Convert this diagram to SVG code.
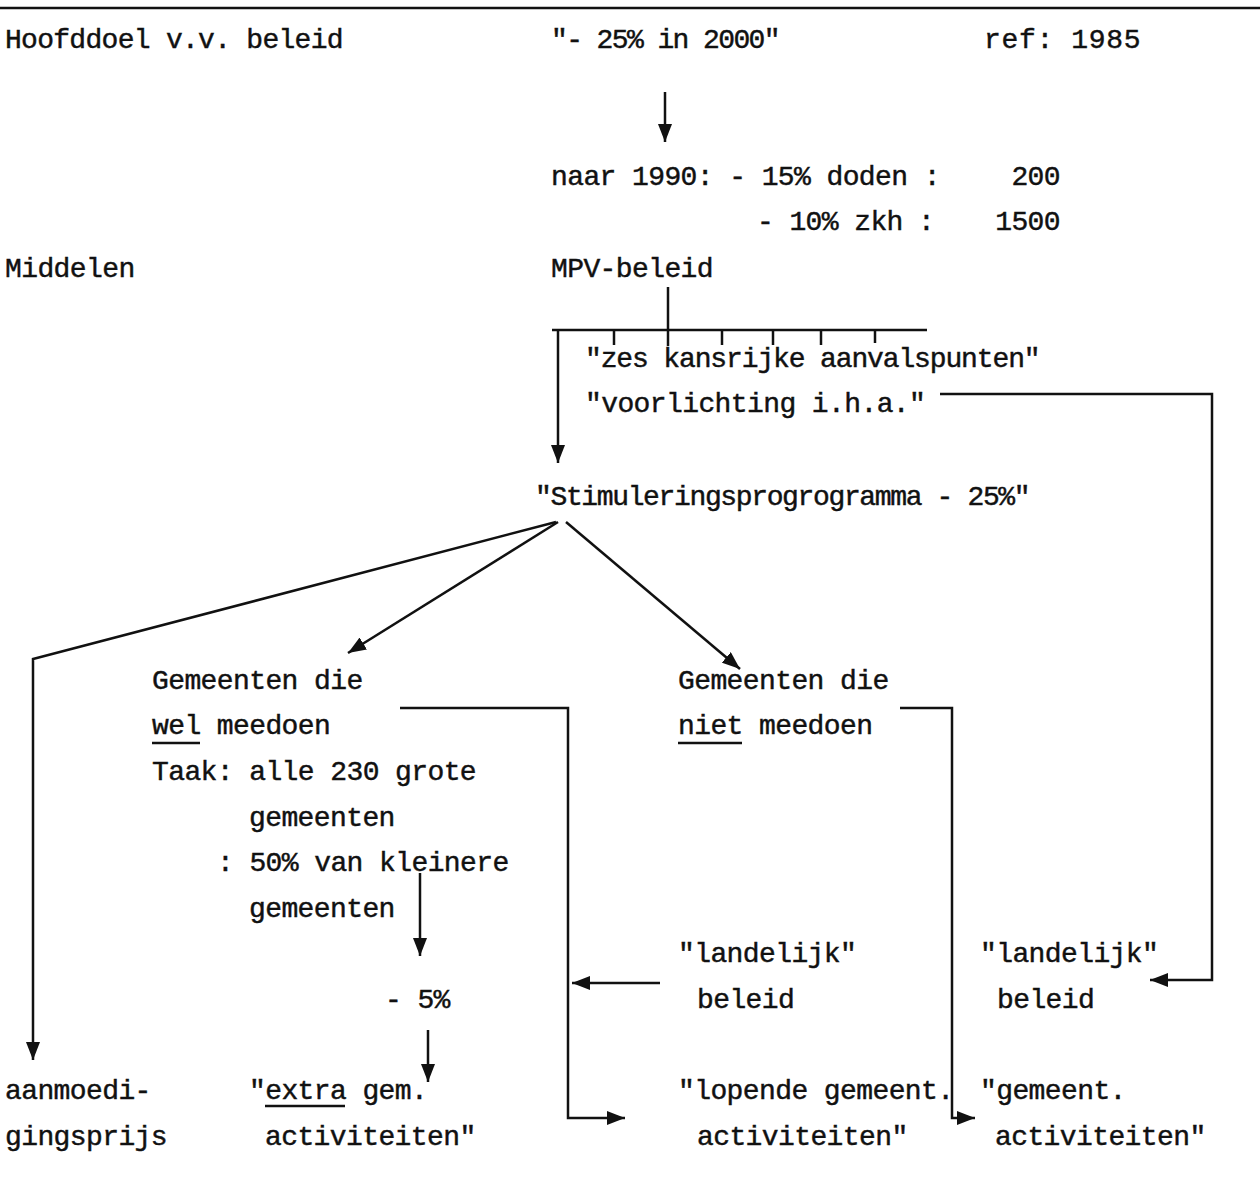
<svg xmlns="http://www.w3.org/2000/svg" width="1260" height="1196" viewBox="0 0 1260 1196">
<style>
text{font-family:"Liberation Mono","DejaVu Sans Mono",monospace;font-size:28px;letter-spacing:-0.6px;fill:#111;stroke:#111;stroke-width:0.45}
.c line,.c path,.u{stroke:#111;stroke-width:2.5;fill:none}
</style>
<defs>
<marker id="ah" markerUnits="userSpaceOnUse" markerWidth="20" markerHeight="14" refX="18" refY="7" orient="auto">
<path d="M0,0 L18,7 L0,14 z" fill="#111"/>
</marker>
</defs>
<rect width="1260" height="1196" fill="#fff"/>
<line x1="0" y1="8" x2="1260" y2="8" stroke="#111" stroke-width="2.5"/>
<g id="hoofddoel"><text x="5" y="48" textLength="338">Hoofddoel v.v. beleid</text></g>
<g id="doel"><text x="551" y="48" textLength="229">"- 25% in 2000"</text></g>
<g id="ref"><text x="984" y="48" textLength="156">ref: 1985</text></g>
<g id="naar1990">
<text x="551" y="185">naar 1990: - 15% doden :</text>
<text x="1060" y="185" text-anchor="end">200</text>
<text x="757" y="230">- 10% zkh</text>
<text x="918" y="230">:</text>
<text x="1060" y="230" text-anchor="end">1500</text>
</g>
<g id="middelen"><text x="5" y="277">Middelen</text></g>
<g id="mpv"><text x="551" y="277">MPV-beleid</text></g>
<g id="zes"><text x="585" y="367" textLength="455">"zes kansrijke aanvalspunten"</text></g>
<g id="voorlichting"><text x="585" y="412">"voorlichting i.h.a."</text></g>
<g id="stimulering"><text x="535" y="505" textLength="495">"Stimuleringsprogrogramma - 25%"</text></g>
<g id="wel">
<text x="152" y="689">Gemeenten die</text>
<text x="152" y="734">wel meedoen</text>
<line class="u" x1="152" y1="743" x2="200" y2="743"/>
<text x="152" y="780">Taak: alle 230 grote</text>
<text x="249" y="826">gemeenten</text>
<text x="217" y="871">: 50% van kleinere</text>
<text x="249" y="917">gemeenten</text>
</g>
<g id="min5"><text x="385" y="1008">- 5%</text></g>
<g id="aanmoedi">
<text x="5" y="1099">aanmoedi-</text>
<text x="5" y="1145">gingsprijs</text>
</g>
<g id="extra">
<text x="249" y="1099">"extra gem.</text>
<line class="u" x1="265" y1="1106" x2="345" y2="1106"/>
<text x="265" y="1145">activiteiten"</text>
</g>
<g id="niet">
<text x="678" y="689">Gemeenten die</text>
<text x="678" y="734">niet meedoen</text>
<line class="u" x1="678" y1="743" x2="742" y2="743"/>
</g>
<g id="landelijk1">
<text x="678" y="962">"landelijk"</text>
<text x="697" y="1008">beleid</text>
</g>
<g id="lopende">
<text x="678" y="1099">"lopende gemeent.</text>
<text x="697" y="1145">activiteiten"</text>
</g>
<g id="landelijk2">
<text x="980" y="962">"landelijk"</text>
<text x="997" y="1008">beleid</text>
</g>
<g id="gemeent">
<text x="980" y="1099">"gemeent.</text>
<text x="995" y="1145">activiteiten"</text>
</g>
<g id="connectors" class="c">
<line x1="665" y1="92" x2="665" y2="142" marker-end="url(#ah)"/>
<line x1="668" y1="287" x2="668" y2="346"/>
<line x1="552" y1="330" x2="927" y2="330"/>
<line x1="614" y1="330" x2="614" y2="345"/>
<line x1="722" y1="330" x2="722" y2="345"/>
<line x1="773" y1="330" x2="773" y2="345"/>
<line x1="821" y1="330" x2="821" y2="345"/>
<line x1="875" y1="330" x2="875" y2="343"/>
<line x1="558" y1="330" x2="558" y2="463" marker-end="url(#ah)"/>
<path d="M940,394 H1212 V980 H1150" marker-end="url(#ah)"/>
<path d="M556,522 L33,659 V1060" marker-end="url(#ah)"/>
<path d="M558,522 L348,653" marker-end="url(#ah)"/>
<path d="M566,522 L740,669" marker-end="url(#ah)"/>
<path d="M400,708 H568 V1118 H625" marker-end="url(#ah)"/>
<path d="M660,983 H572" marker-end="url(#ah)"/>
<path d="M420,873 V956" marker-end="url(#ah)"/>
<path d="M428,1030 V1082" marker-end="url(#ah)"/>
<path d="M900,708 H952 V1118 H975" marker-end="url(#ah)"/>
</g>
</svg>
